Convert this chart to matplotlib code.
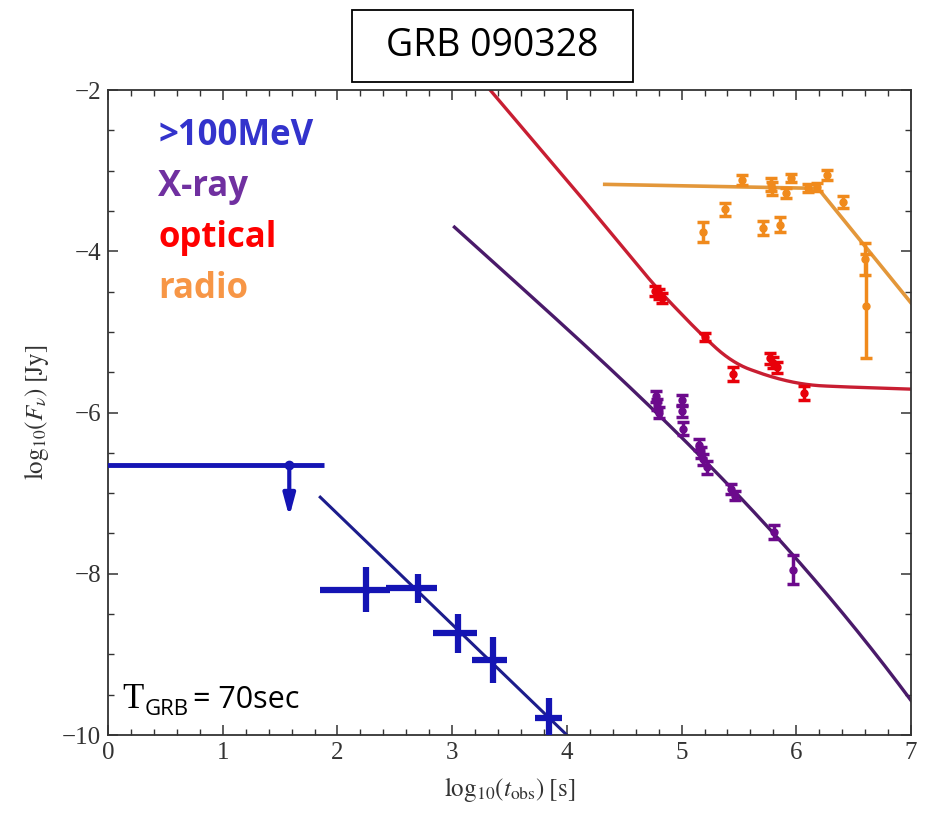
import numpy as np
import matplotlib.pyplot as plt
from matplotlib.patches import Rectangle

plt.rcParams['mathtext.fontset'] = 'stix'

# >100 MeV (Fermi-LAT) bins
lat_t = np.array([2.25, 2.70, 3.05, 3.36, 3.84])
lat_f = np.array([-8.20, -8.18, -8.74, -9.07, -9.79])
lat_t_lo = np.array([1.85, 2.42, 2.83, 3.17, 3.72])
lat_t_hi = np.array([2.46, 2.87, 3.22, 3.48, 3.96])
lat_f_err = np.array([0.28, 0.18, 0.24, 0.29, 0.25])

# early LAT upper limit
ul_t, ul_f = 1.58, -6.65
ul_t_lo, ul_t_hi = -0.2, 1.88
ul_arrow_to = -7.33

# X-ray
xr_t = np.array([4.78, 4.79, 4.80, 5.00, 5.00, 5.01, 5.15, 5.17, 5.19, 5.22, 5.43, 5.47, 5.81, 5.97])
xr_f = np.array([-5.80, -5.90, -6.00, -5.85, -5.98, -6.20, -6.40, -6.50, -6.58, -6.68, -6.95, -7.03, -7.48, -7.95])
xr_err = np.array([0.07, 0.07, 0.07, 0.07, 0.07, 0.08, 0.07, 0.07, 0.07, 0.08, 0.06, 0.06, 0.09, 0.18])

# optical
opt_t = np.array([4.77, 4.80, 4.83, 5.20, 5.45, 5.77, 5.80, 5.83, 6.07])
opt_f = np.array([-4.49, -4.53, -4.58, -5.06, -5.52, -5.33, -5.38, -5.44, -5.76])
opt_err = np.array([0.06, 0.06, 0.06, 0.05, 0.09, 0.07, 0.07, 0.07, 0.09])

# radio
radio_t = np.array([5.19, 5.38, 5.53, 5.71, 5.78, 5.79, 5.86, 5.91, 5.95, 6.10, 6.18, 6.27, 6.41, 6.60, 6.61])
radio_f = np.array([-3.76, -3.48, -3.12, -3.71, -3.17, -3.22, -3.67, -3.28, -3.09, -3.22, -3.20, -3.05, -3.39, -4.10, -4.68])
radio_err = np.array([0.12, 0.08, 0.06, 0.09, 0.08, 0.08, 0.09, 0.06, 0.05, 0.05, 0.05, 0.06, 0.07, 0.20, 0.65])

# model curves (log t, log F)
lat_model_t = [1.85, 4.0]
lat_model_f = [-7.05, -10.0]
xr_model_t = [3.02, 3.48, 3.77, 4.05, 4.35, 4.55, 4.75, 5.42, 6.29, 7.0]
xr_model_f = [-3.66, -4.32, -4.69, -5.10, -5.44, -5.64, -5.85, -6.93, -8.36, -9.54]
opt_model_t = [3.20, 4.12, 4.79, 5.19, 5.45, 5.80, 6.09, 6.38, 7.0]
opt_model_f = [-1.78, -3.32, -4.47, -5.06, -5.39, -5.57, -5.66, -5.68, -5.71]
radio_model_t = [4.33, 6.19, 7.0]
radio_model_f = [-3.17, -3.22, -4.64]

c_lat = '#1414b4'
c_lat_line = '#1c1c8c'
c_xr = '#6c0a8c'
c_xr_line = '#4a1a6a'
c_opt = '#e8000a'
c_opt_line = '#c81e32'
c_radio = '#f08a1c'
c_radio_line = '#e3973a'


def smooth(xs, ys, n=400):
    # densify node list and soften corners a little
    xx = np.linspace(xs[0], xs[-1], n)
    yy = np.interp(xx, xs, ys)
    k = 15
    pad = np.pad(yy, k, mode='reflect', reflect_type='odd')
    yy = np.convolve(pad, np.ones(2 * k + 1) / (2 * k + 1), mode='valid')
    return xx, yy


def polycurve(xs, ys, deg=3, n=400):
    xx = np.linspace(xs[0], xs[-1], n)
    return xx, np.polyval(np.polyfit(xs, ys, deg), xx)


fig = plt.figure(figsize=(9.33, 8.22), dpi=100)
ax = fig.add_axes([0.1158, 0.1058, 0.8606, 0.7847])

# model lines
ax.plot(lat_model_t, lat_model_f, color=c_lat_line, lw=2.2, zorder=2)
ax.plot(*polycurve(xr_model_t, xr_model_f), color=c_xr_line, lw=2.4, zorder=2)
ax.plot(*smooth(opt_model_t, opt_model_f), color=c_opt_line, lw=2.4, zorder=2)
ax.plot(radio_model_t, radio_model_f, color=c_radio_line, lw=2.6, zorder=2)

# LAT points
ax.errorbar(lat_t, lat_f, xerr=[lat_t - lat_t_lo, lat_t_hi - lat_t], yerr=lat_f_err,
            fmt='o', ms=5, color=c_lat, elinewidth=4.5, capsize=0, zorder=4)
ax.errorbar([ul_t], [ul_f], xerr=[[ul_t - ul_t_lo], [ul_t_hi - ul_t]],
            fmt='o', ms=6, color=c_lat, elinewidth=3.5, capsize=0, zorder=4)
ax.annotate('', xy=(ul_t, ul_arrow_to), xytext=(ul_t, ul_f),
            arrowprops=dict(arrowstyle='-|>,head_width=0.35,head_length=1.3',
                            color=c_lat, lw=3), zorder=4)

# afterglow points
eb = dict(fmt='o', ms=5, elinewidth=2.5, capsize=4, capthick=2.5, zorder=3)
ax.errorbar(xr_t, xr_f, yerr=xr_err, color=c_xr, **eb)
ax.errorbar(opt_t, opt_f, yerr=opt_err, color=c_opt, **eb)
ax.errorbar(radio_t, radio_f, yerr=radio_err, color=c_radio, **eb)

ax.set_xlim(0, 7)
ax.set_ylim(-10, -2)
ax.set_xticks(range(0, 8))
ax.set_yticks([-10, -8, -6, -4, -2])
ax.set_yticklabels(['\u221210', '\u22128', '\u22126', '\u22124', '\u22122'])
ax.set_xticks(np.arange(0, 7.01, 0.2), minor=True)
ax.set_yticks(np.arange(-10, -1.99, 0.5), minor=True)
ax.tick_params(which='both', direction='in', top=True, right=True, colors='#333333')
ax.tick_params(which='major', length=7, width=1.1, labelsize=18, pad=5)
ax.tick_params(which='minor', length=4, width=1.0)
for lab in ax.get_xticklabels() + ax.get_yticklabels():
    lab.set_family('Liberation Serif')
    lab.set_color('#333333')
for s in ax.spines.values():
    s.set_color('#333333')
    s.set_linewidth(1.3)

ax.set_xlabel(r'$\mathrm{log}_{10}(t_{\mathrm{obs}})\;[\mathrm{s}]$', fontsize=18, color='#333333', labelpad=8)
ax.set_ylabel(r'$\mathrm{log}_{10}(F_{\nu})\;[\mathrm{Jy}]$', fontsize=18, color='#333333', labelpad=8)

# band labels
bands = ['>100MeV', 'X-ray', 'optical', 'radio']
band_colors = ['#3333cc', '#7030a0', '#ff0000', '#f79646']
for i, (b, c) in enumerate(zip(bands, band_colors)):
    fig.text(158 / 933, 1 - (145 + 51 * i) / 822, b, color=c, fontsize=25,
             fontweight='bold', family='Open Sans', ha='left', va='baseline')

fig.text(122 / 933, 1 - 708 / 822, 'T', fontsize=25, family='Liberation Serif', va='baseline')
fig.text(145 / 933, 1 - 715 / 822, 'GRB', fontsize=16, family='Open Sans', va='baseline')
fig.text(193 / 933, 1 - 708 / 822, '= 70sec', fontsize=22, family='Open Sans', va='baseline')

# title box
fig.add_artist(Rectangle((352 / 933, 1 - 82 / 822), 281 / 933, 72 / 822,
                         transform=fig.transFigure, fill=False, ec='black', lw=1.3))
fig.text(492 / 933, 1 - 46 / 822, 'GRB 090328', fontsize=27, family='Open Sans',
         ha='center', va='center')

fig.savefig('out.png', dpi=100)
